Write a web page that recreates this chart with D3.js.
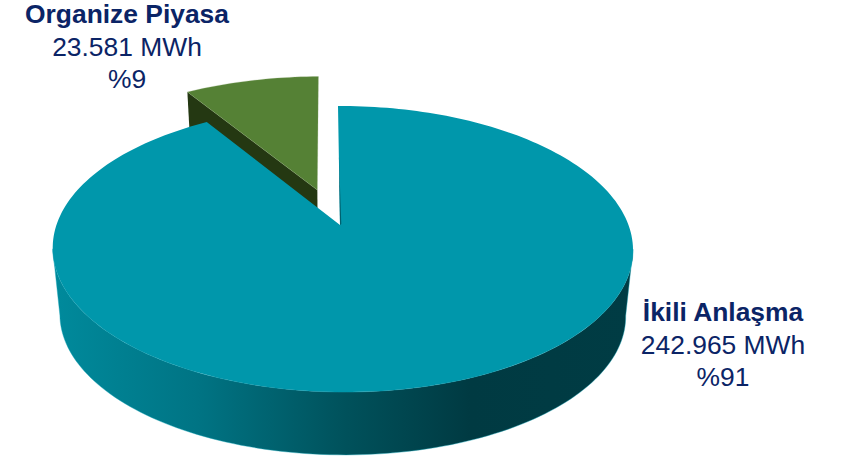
<!DOCTYPE html>
<html>
<head>
<meta charset="utf-8">
<script src="https://cdnjs.cloudflare.com/ajax/libs/d3/7.8.5/d3.min.js"></script>
<style>
  html, body { margin: 0; padding: 0; background: #fff; }
  text { font-family: "Liberation Sans", Arial, sans-serif; fill: #0b2466; text-anchor: middle; font-size: 26.4px; }
  .name { font-weight: bold; }
</style>
</head>
<body>
<div id="chart"></div>
<script>
// Chart data
const names = ["İkili Anlaşma", "Organize Piyasa"];
const values = [242965, 23581];
const valueLabels = ["242.965 MWh", "23.581 MWh"];
const percentLabels = ["%91", "%9"];

const width = 841, height = 461;

// Perspective of the pie plate, fitted to the picture
const apexX = 340, apexY = 225;
const A = 286, B = 139, tiltV = 0.168, tiltU = -0.0086, skew = -2;
const depth = 67, lowerScale = 0.975;

// Plate coordinates (u to the right, v to the back, radius 1) to the screen
function project(u, v, lower) {
  const w = 1 + tiltV * v + tiltU * u;
  let x = apexX + (A * u) / w + skew * v;
  let y = apexY - (B * v) / w;
  if (lower) {
    x = apexX + (x - apexX) * lowerScale;
    y = apexY + (y - apexY) * lowerScale + depth;
  }
  return [x, y];
}

// Sample points along the rim between two angles
function rim(a0, a1, r, cu, cv, lower) {
  const n = Math.max(2, Math.ceil(Math.abs(a1 - a0) * 40));
  return d3.range(n + 1).map(i => {
    const a = a0 + ((a1 - a0) * i) / n;
    return project(cu + r * Math.sin(a), cv + r * Math.cos(a), lower);
  });
}

const line = d3.line();

const pie = d3.pie().sort(null)(values);
const big = pie[0], small = pie[1];

const svg = d3.select("#chart").append("svg")
  .attr("width", width)
  .attr("height", height)
  .style("display", "block");

// Side wall shading
const grad = svg.append("defs").append("linearGradient")
  .attr("id", "wall")
  .attr("gradientUnits", "userSpaceOnUse")
  .attr("x1", 53).attr("x2", 632).attr("y1", 0).attr("y2", 0);
[[0, "#008a9c"], [0.25, "#007484"], [0.5, "#00525c"], [0.72, "#003a42"], [1, "#003c44"]]
  .forEach(s => grad.append("stop").attr("offset", s[0]).attr("stop-color", s[1]));

// Detached slice
const explodeDist = 0.273, smallR = 1.04;
const mid = (small.startAngle + small.endAngle) / 2;
const cu = explodeDist * Math.sin(mid) * 1.08, cv = explodeDist * Math.cos(mid);

const smallApex = project(cu, cv, false);
const smallApexLow = project(cu, cv, true);
const smallLeft = project(cu + smallR * Math.sin(small.startAngle), cv + smallR * Math.cos(small.startAngle), false);
const smallLeftLow = project(cu + smallR * Math.sin(small.startAngle), cv + smallR * Math.cos(small.startAngle), true);

svg.append("path")
  .attr("d", line([smallLeft, smallApex, smallApexLow, smallLeftLow]) + "Z")
  .attr("fill", "#243812");

svg.append("path")
  .attr("d", line([smallApex, ...rim(small.startAngle, small.endAngle, smallR, cu, cv, false)]) + "Z")
  .attr("fill", "#558135")
  .attr("stroke", "#8fae78")
  .attr("stroke-opacity", 0.35)
  .attr("stroke-width", 0.7);

// Big slice: wall first, top face over it
const sideAngle = Math.acos(-tiltV);
const wallPts = [
  ...rim(sideAngle, 2 * Math.PI - sideAngle, 1, 0, 0, false),
  ...rim(2 * Math.PI - sideAngle, sideAngle, 1, 0, 0, true)
];
svg.append("path")
  .attr("d", line(wallPts) + "Z")
  .attr("fill", "url(#wall)")
  .attr("stroke", "#12a5b8")
  .attr("stroke-opacity", 0.5)
  .attr("stroke-width", 0.8);

svg.append("path")
  .attr("d", line([project(0, 0, false), ...rim(big.startAngle, big.endAngle, 1, 0, 0, false)]) + "Z")
  .attr("fill", "#0097ab");

// Thin dark sliver of the cut wall next to the gap, tapering upward
const sliverTop = project(0, 0.55, false), sliverEnd = project(0, 0, false);
svg.append("path")
  .attr("d", line([sliverTop, sliverEnd, [sliverEnd[0] + 1.3, sliverEnd[1] - 1]]) + "Z")
  .attr("fill", "#00606e");

// Labels
const labelPos = [[723, 321], [127, 23]];
const lineGap = 32.5;
names.forEach((n, i) => {
  const g = svg.append("g").attr("transform", `translate(${labelPos[i][0]},${labelPos[i][1]})`);
  g.append("text").attr("class", "name").text(n);
  g.append("text").attr("y", lineGap).text(valueLabels[i]);
  g.append("text").attr("y", lineGap * 2).text(percentLabels[i]);
});
</script>
</body>
</html>
